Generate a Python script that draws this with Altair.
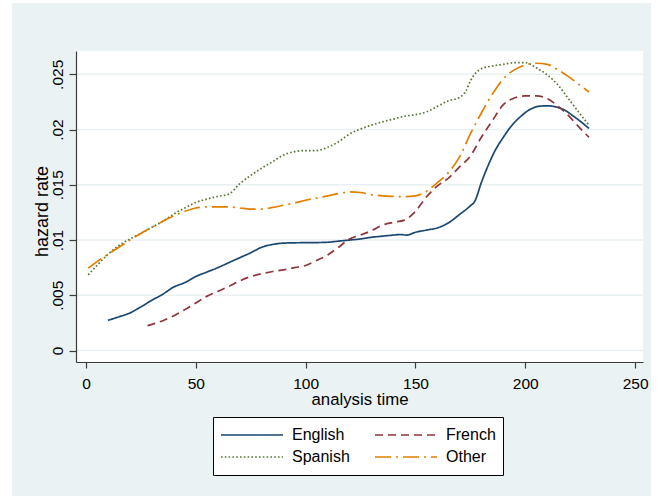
import altair as alt
import pandas as pd

# Smoothed hazard estimates by language group
t_english = [10, 15, 20, 25, 30, 35, 40, 45, 50, 55, 60, 65, 70, 75, 80, 85, 90, 95, 100, 105,
             110, 115, 120, 125, 130, 135, 140, 143, 146, 150, 155, 160, 165, 170, 175, 177,
             180, 183, 186, 190, 194, 198, 202, 206, 210, 214, 218, 222, 226, 229]
h_english = [.00273, .00305, .0034, .00395, .00455, .0051, .00575, .00615, .0067, .0071,
             .0075, .00795, .0084, .00885, .00935, .0096, .00972, .00975, .00976, .00977,
             .0098, .0099, .0100, .0101, .01025, .01035, .01045, .0105, .01045, .0107,
             .0109, .0111, .01155, .0123, .0131, .0135, .0152, .0167, .0180, .0193,
             .0204, .0212, .0218, .0221, .02215, .02205, .02175, .0212, .0206, .0201]

t_french = [28, 35, 40, 45, 50, 55, 60, 65, 70, 75, 80, 85, 90, 95, 100, 105, 110, 115, 120,
            125, 130, 135, 140, 145, 150, 155, 160, 165, 170, 175, 180, 185, 190, 195, 200,
            205, 210, 215, 220, 225, 229]
h_french = [.00225, .0027, .00315, .0037, .0043, .0049, .00535, .0058, .0063, .0067, .00695,
            .00715, .0073, .0075, .0077, .00815, .00865, .00935, .0101, .01045, .01085,
            .01135, .0116, .0118, .0126, .0139, .0149, .0156, .0166, .0176, .0193, .0208,
            .02225, .02285, .02305, .02305, .0228, .0221, .0212, .0201, .0193]

t_spanish = [1, 5, 10, 15, 20, 25, 30, 35, 40, 45, 50, 55, 60, 65, 70, 75, 80, 85, 90, 95,
             100, 105, 110, 115, 120, 125, 130, 135, 140, 145, 150, 155, 160, 165, 170, 173,
             175, 180, 185, 190, 195, 200, 205, 210, 215, 220, 225, 229]
h_spanish = [.00685, .0077, .0087, .0095, .0101, .0106, .01115, .0117, .01235, .0129, .0134,
             .0137, .01395, .01415, .0151, .01585, .0165, .0171, .0177, .0180, .0181, .0181,
             .0184, .0189, .0196, .02005, .0204, .0207, .02095, .0212, .02135, .0216, .0221,
             .0226, .0229, .0235, .0244, .0255, .02575, .0259, .02605, .02605, .0256,
             .02495, .0240, .0227, .0214, .0204]

t_other = [1, 5, 10, 15, 20, 25, 30, 35, 40, 45, 50, 55, 60, 65, 70, 75, 80, 85, 90, 95,
           100, 105, 110, 115, 120, 125, 130, 135, 140, 145, 150, 155, 160, 165, 170, 175,
           180, 185, 190, 195, 200, 205, 210, 215, 220, 225, 229]
h_other = [.00745, .00805, .0087, .00935, .0100, .0106, .01115, .0117, .0122, .0126, .0129,
           .0130, .0130, .0130, .0129, .0128, .0128, .01295, .01315, .01335, .0136, .0138,
           .0140, .0142, .01435, .0143, .0141, .0140, .01395, .01392, .0140, .0144, .0152,
           .0161, .0175, .0196, .0215, .0232, .0246, .0254, .02585, .0260, .0259, .0254,
           .02475, .0240, .0234]

# legend entries fill column by column: English/Spanish left, French/Other right
groups = ["English", "Spanish", "French", "Other"]
colors = ["#1a476f", "#55752f", "#90353b", "#e37e00"]
dashes = [[1, 0], [1.6, 2.2], [8, 5], [16, 5, 2, 5]]
y_ticks = [0, .005, .01, .015, .02, .025]
x_ticks = [0, 50, 100, 150, 200, 250]

rows = []
for name, ts, hs in [("English", t_english, h_english), ("French", t_french, h_french),
                     ("Spanish", t_spanish, h_spanish), ("Other", t_other, h_other)]:
    rows += [{"group": name, "t": t, "h": h} for t, h in zip(ts, hs)]
df = pd.DataFrame(rows)

W, H = 567, 311
FONT = "Liberation Sans"

x_scale = alt.Scale(domain=[-4.55, 253.6], nice=False, zero=False)
y_scale = alt.Scale(domain=[-0.00104, 0.02711], nice=False, zero=False)

x_axis = alt.Axis(values=x_ticks, grid=False, tickSize=6, labelBaseline="alphabetic",
                  labelPadding=20, titleY=42, titleBaseline="alphabetic", zindex=1)
y_axis = alt.Axis(values=y_ticks, grid=False, tickSize=7, labelAngle=270,
                  labelAlign="center", labelBaseline="alphabetic", labelPadding=7,
                  titleX=-28.7, titleY=160, titleAngle=270, titleAlign="center",
                  titleBaseline="alphabetic", titleFontSize=18, zindex=1,
                  labelExpr="replace(format(datum.value, '.3~f'), '0.', '.')")

one = pd.DataFrame({"k": [0]})

# graph region and plot region fills
outer = alt.Chart(one).mark_rect(color="#EAF2F3").encode(
    x=alt.value(-64), x2=alt.value(W + 8), y=alt.value(-48), y2=alt.value(H + 134))
inner = alt.Chart(one).mark_rect(color="white").encode(
    x=alt.value(0), x2=alt.value(W), y=alt.value(0), y2=alt.value(H))

grid = alt.Chart(pd.DataFrame({"v": y_ticks})).mark_rule(
    color="#E8F0F2", strokeWidth=1.6).encode(
    y=alt.Y("v:Q", scale=y_scale, title="hazard rate", axis=y_axis),
    x=alt.value(0), x2=alt.value(W))

lines = alt.Chart(df).mark_line(strokeWidth=1.7, interpolate="monotone").encode(
    x=alt.X("t:Q", scale=x_scale, title="analysis time", axis=x_axis),
    y=alt.Y("h:Q", scale=y_scale, title="hazard rate", axis=y_axis),
    color=alt.Color("group:N", sort=groups,
                    scale=alt.Scale(domain=groups, range=colors),
                    legend=alt.Legend(title=None, orient="none", legendX=137, legendY=366,
                                      columns=2, symbolType="stroke", symbolSize=3844,
                                      symbolStrokeWidth=1.7, clipHeight=22,
                                      labelOffset=8, columnPadding=24, rowPadding=0,
                                      padding=7, fillColor="white", strokeColor="black",
                                      labelFont=FONT, labelFontSize=16, labelColor="black")),
    strokeDash=alt.StrokeDash("group:N", sort=groups,
                              scale=alt.Scale(domain=groups, range=dashes), legend=None),
)

chart = alt.layer(outer, inner, grid, lines).properties(
    width=W, height=H, background="white",
    padding={"left": 12, "top": 3, "right": 6, "bottom": 2},
).configure_view(stroke=None).configure_axis(
    domainColor="#3c3c3c", domainWidth=1.2, tickColor="#3c3c3c", tickWidth=1.2,
    labelFont=FONT, labelFontSize=15.5, labelColor="black",
    titleFont=FONT, titleFontSize=16.8, titleFontWeight="normal", titleColor="black",
)

chart.save("out.html", embed_options={"renderer": "svg", "actions": False})
